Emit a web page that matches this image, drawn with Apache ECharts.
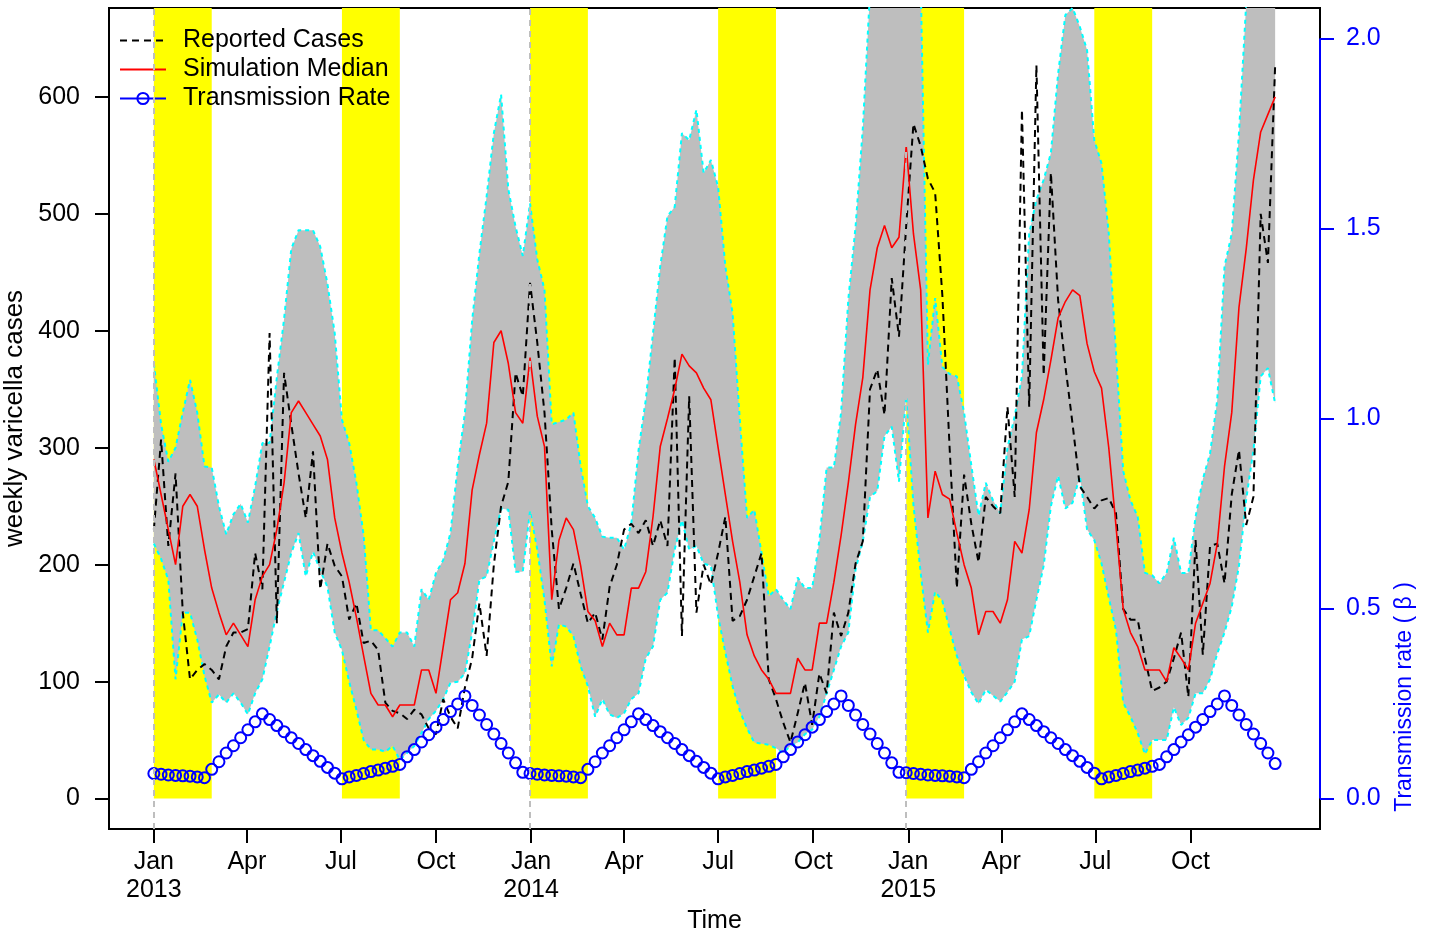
<!DOCTYPE html>
<html>
<head>
<meta charset="utf-8">
<title>Varicella cases and transmission rate</title>
<script src="https://cdn.jsdelivr.net/npm/echarts@6/dist/echarts.min.js"></script>
<style>
  html, body { margin: 0; padding: 0; background: #fff; }
  #chart { width: 1430px; height: 932px; }
</style>
</head>
<body>
<div id="chart"></div>
<script>
// weekly series, week 0 = first week of Jan 2013
const reported = [
  230, 307, 216, 278, 159, 102, 110, 115, 110, 102,
  130, 142, 142, 145, 210, 179, 398, 150, 364, 320,
  278, 240, 297, 179, 218, 199, 190, 153, 167, 133,
  135, 127, 82, 75, 73, 68, 76, 72, 60, 55,
  85, 70, 60, 95, 120, 167, 122, 200, 250, 271,
  364, 344, 441, 390, 330, 230, 162, 180, 201, 175,
  150, 159, 136, 181, 200, 230, 235, 227, 238, 216,
  238, 216, 377, 139, 344, 159, 200, 183, 210, 241,
  152, 156, 170, 190, 210, 102, 85, 65, 48, 73,
  99, 63, 107, 90, 159, 139, 159, 201, 220, 350,
  367, 328, 445, 395, 490, 577, 558, 530, 518, 430,
  300, 180, 277, 235, 202, 258, 250, 244, 335, 258,
  589, 335, 627, 362, 535, 426, 370, 320, 267, 258,
  248, 255, 257, 244, 162, 153, 153, 120, 92, 95,
  100, 120, 142, 87, 221, 123, 216, 218, 184, 260,
  298, 234, 258, 500, 458, 627
];

const median = [
  290, 260, 230, 200, 250, 260, 250, 213, 180, 159,
  140, 150, 140, 130, 170, 190, 200, 230, 270, 330,
  340, 330, 320, 310, 290, 240, 210, 185, 155, 122,
  90, 80, 80, 70, 80, 80, 80, 110, 110, 90,
  130, 170, 176, 201, 264, 294, 321, 390, 400, 372,
  330, 321, 377, 327, 301, 170, 221, 240, 230, 199,
  160, 152, 130, 150, 140, 140, 180, 180, 194, 241,
  301, 325, 350, 380, 370, 364, 351, 341, 300, 260,
  220, 185, 140, 122, 110, 102, 90, 90, 90, 120,
  110, 110, 150, 150, 185, 225, 270, 320, 360, 435,
  471, 490, 471, 480, 558, 483, 435, 240, 280, 260,
  256, 227, 200, 180, 140, 160, 160, 150, 170, 220,
  210, 247, 313, 341, 375, 411, 425, 435, 430, 389,
  365, 351, 300, 233, 162, 142, 130, 110, 110, 110,
  100, 129, 120, 110, 150, 167, 184, 218, 284, 330,
  420, 470, 529, 570, 585, 600
];

const upper = [
  372, 320, 288, 300, 330, 358, 330, 284, 283, 250,
  226, 243, 252, 236, 267, 304, 304, 360, 410, 470,
  486, 486, 486, 472, 440, 398, 324, 304, 270, 225,
  144, 144, 137, 130, 142, 142, 130, 179, 170, 193,
  204, 227, 284, 330, 409, 466, 515, 569, 602, 521,
  489, 464, 509, 461, 435, 320, 322, 324, 330, 284,
  250, 240, 224, 223, 223, 213, 235, 298, 341, 398,
  455, 498, 506, 569, 563, 589, 535, 546, 523, 455,
  415, 324, 240, 247, 210, 173, 179, 170, 162, 189,
  180, 180, 221, 283, 283, 330, 427, 489, 573, 690,
  740, 780, 800, 790, 760, 730, 700, 371, 428, 369,
  363, 361, 330, 285, 242, 270, 255, 244, 300, 327,
  361, 483, 512, 529, 552, 620, 670, 676, 660, 640,
  563, 543, 483, 381, 280, 255, 241, 193, 191, 184,
  193, 223, 193, 193, 241, 273, 295, 341, 455, 483,
  569, 680, 740, 780, 800, 820
];

const lower = [
  218, 205, 187, 102, 159, 159, 136, 105, 82, 89,
  82, 90, 82, 72, 90, 102, 130, 160, 185, 210,
  227, 190, 211, 195, 181, 142, 127, 100, 76, 50,
  42, 42, 40, 45, 33, 39, 45, 56, 68, 75,
  85, 99, 100, 107, 142, 187, 190, 220, 248, 247,
  194, 194, 246, 213, 170, 113, 149, 147, 139, 113,
  96, 70, 85, 72, 69, 73, 85, 90, 120, 130,
  170, 176, 213, 238, 213, 216, 201, 199, 156, 125,
  96, 75, 60, 48, 47, 46, 43, 39, 45, 48,
  55, 59, 70, 90, 110, 130, 142, 196, 220, 258,
  263, 310, 318, 271, 344, 251, 193, 142, 177, 169,
  145, 122, 105, 91, 81, 93, 88, 83, 91, 100,
  136, 139, 170, 199, 250, 276, 248, 253, 276, 230,
  221, 201, 172, 144, 82, 70, 56, 38, 50, 50,
  50, 78, 63, 69, 90, 90, 102, 124, 142, 164,
  199, 256, 298, 361, 368, 338
];

const beta = [
  0.066, 0.064, 0.062, 0.061, 0.060, 0.059, 0.057, 0.055,
  0.077, 0.097, 0.120, 0.139, 0.160, 0.181, 0.202, 0.223,
  0.208, 0.192, 0.176, 0.160, 0.145, 0.129, 0.113, 0.098, 0.082, 0.067, 0.052,
  0.057, 0.061, 0.066, 0.071, 0.075, 0.080, 0.085, 0.090,
  0.110, 0.129, 0.149, 0.168, 0.188, 0.208, 0.229, 0.249, 0.270,
  0.245, 0.220, 0.195, 0.170, 0.145, 0.120, 0.094, 0.069,
  0.066, 0.064, 0.062, 0.061, 0.060, 0.059, 0.057, 0.055,
  0.077, 0.097, 0.120, 0.139, 0.160, 0.181, 0.202, 0.223,
  0.208, 0.192, 0.176, 0.160, 0.145, 0.129, 0.113, 0.098, 0.082, 0.067, 0.052,
  0.057, 0.061, 0.066, 0.071, 0.075, 0.080, 0.085, 0.090,
  0.110, 0.129, 0.149, 0.168, 0.188, 0.208, 0.229, 0.249, 0.270,
  0.245, 0.220, 0.195, 0.170, 0.145, 0.120, 0.094, 0.069,
  0.068,
  0.066, 0.064, 0.062, 0.061, 0.060, 0.059, 0.057, 0.055,
  0.077, 0.097, 0.120, 0.139, 0.160, 0.181, 0.202, 0.223,
  0.208, 0.192, 0.176, 0.160, 0.145, 0.129, 0.113, 0.098, 0.082, 0.067, 0.052,
  0.057, 0.061, 0.066, 0.071, 0.075, 0.080, 0.085, 0.090,
  0.110, 0.129, 0.149, 0.168, 0.188, 0.208, 0.229, 0.249, 0.270,
  0.245, 0.220, 0.195, 0.170, 0.145, 0.120, 0.092
];

// x is in days since 2013-01-01, one point per week
const days = reported.map((_, i) => i * 7);

const xTickDays = [0, 90, 181, 273, 365, 455, 546, 638, 730, 820, 911, 1003];
const xTickLabels = ['Jan\n2013', 'Apr', 'Jul', 'Oct', 'Jan\n2014', 'Apr', 'Jul', 'Oct', 'Jan\n2015', 'Apr', 'Jul', 'Oct'];
const yTicks = [0, 100, 200, 300, 400, 500, 600];
const betaTicks = [0, 0.5, 1.0, 1.5, 2.0];

// Jan-Feb and Jul-Aug (school holidays), in days
const holidayBands = [[0, 56], [182, 238], [364, 420], [546, 602], [728, 784], [910, 966]];
const yearStarts = [0, 364, 728];

const X_MIN = -43.4, X_MAX = 1128.4;
const Y_MIN = -26, Y_MAX = 676;
const FONT = '"Liberation Sans", Arial, Helvetica, sans-serif';
const FS = 25;

const pairs = (ys) => ys.map((y, i) => [days[i], y]);
const noDot = { color: 'rgba(0,0,0,0)', borderWidth: 0 };

const chart = echarts.init(document.getElementById('chart'), null, { renderer: 'canvas' });

chart.setOption({
  animation: false,
  backgroundColor: '#fff',
  textStyle: { fontFamily: FONT },
  grid: {
    left: 109, right: 110, top: 8, bottom: 103,
    outerBoundsMode: 'none',
    containLabel: false,
    show: true, borderColor: '#000', borderWidth: 2, backgroundColor: 'transparent'
  },
  legend: {
    orient: 'vertical',
    left: 114, top: 23,
    itemWidth: 46, itemHeight: 14, itemGap: 4,
    textStyle: { fontSize: FS, color: '#000', fontFamily: FONT, padding: [0, 0, 0, 12] },
    data: [
      { name: 'Reported Cases', itemStyle: noDot },
      { name: 'Simulation Median', itemStyle: noDot },
      {
        name: 'Transmission Rate',
        itemStyle: { color: 'rgba(0,0,0,0)', borderColor: '#0000FF', borderWidth: 2 },
        lineStyle: { color: '#0000FF', width: 2, type: 'solid' }
      }
    ]
  },
  xAxis: {
    type: 'value',
    min: X_MIN, max: X_MAX,
    name: 'Time', nameLocation: 'middle', nameGap: 78,
    nameTextStyle: { fontSize: FS, color: '#000', fontFamily: FONT },
    axisLine: { show: true, onZero: false, lineStyle: { color: '#000', width: 2 } },
    axisTick: { show: true, length: 14, lineStyle: { color: '#000', width: 2 }, customValues: xTickDays },
    axisLabel: {
      customValues: xTickDays,
      fontSize: FS, color: '#000', lineHeight: 28, margin: 19, fontFamily: FONT,
      formatter: (v) => xTickLabels[xTickDays.indexOf(v)] ?? ''
    },
    splitLine: { show: false }
  },
  yAxis: [
    {
      type: 'value',
      min: Y_MIN, max: Y_MAX,
      name: 'weekly varicella cases', nameLocation: 'middle', nameGap: 76,
      nameTextStyle: { fontSize: 26, color: '#000', fontFamily: FONT },
      axisLine: { show: true, onZero: false, lineStyle: { color: '#000', width: 2 } },
      axisTick: { show: true, length: 14, lineStyle: { color: '#000', width: 2 }, customValues: yTicks },
      axisLabel: { customValues: yTicks, fontSize: FS, color: '#000', margin: 29, fontFamily: FONT },
      splitLine: { show: false }
    },
    {
      type: 'value',
      position: 'right',
      min: -0.08, max: 2.08,
      axisLine: { show: false, onZero: false },
      axisTick: { show: true, length: 14, lineStyle: { color: '#0000FF', width: 2 }, customValues: betaTicks },
      axisLabel: {
        customValues: betaTicks, fontSize: FS, color: '#0000FF', margin: 26, fontFamily: FONT,
        formatter: (v) => v.toFixed(1)
      },
      splitLine: { show: false }
    }
  ],
  graphic: [
    {
      type: 'text',
      x: 1405, y: 697,
      rotation: Math.PI / 2,
      style: {
        text: 'Transmission rate ( β )',
        fill: '#0000FF', fontSize: 23, fontFamily: FONT,
        align: 'center', verticalAlign: 'middle'
      }
    }
  ],
  series: [
    {
      name: 'band',
      type: 'custom',
      clip: true,
      silent: true,
      data: [[0, 0]],
      renderItem: (params, api) => {
        const pts = [];
        for (let i = 0; i < days.length; i++) pts.push(api.coord([days[i], upper[i]]));
        for (let i = days.length - 1; i >= 0; i--) pts.push(api.coord([days[i], lower[i]]));
        return { type: 'polygon', shape: { points: pts }, style: { fill: '#BEBEBE', stroke: null } };
      },
      markArea: {
        silent: true,
        itemStyle: { color: '#FFFF00', opacity: 1 },
        data: holidayBands.map(([a, b]) => [{ xAxis: a, yAxis: 0 }, { xAxis: b, yAxis: Y_MAX }])
      },
      markLine: {
        silent: true,
        symbol: ['none', 'none'],
        label: { show: false },
        lineStyle: { color: '#BEBEBE', width: 2, type: [6, 5] },
        data: yearStarts.map((d) => ({ xAxis: d }))
      }
    },
    {
      name: 'upper',
      type: 'line',
      data: pairs(upper),
      symbol: 'none',
      silent: true,
      lineStyle: { color: '#00FFFF', width: 2, type: [4, 4] }
    },
    {
      name: 'lower',
      type: 'line',
      data: pairs(lower),
      symbol: 'none',
      silent: true,
      lineStyle: { color: '#00FFFF', width: 2, type: [4, 4] }
    },
    {
      name: 'Reported Cases',
      type: 'line',
      data: pairs(reported),
      symbol: 'none',
      itemStyle: { color: '#000' },
      lineStyle: { color: '#000', width: 2, type: [7, 5] }
    },
    {
      name: 'Simulation Median',
      type: 'line',
      data: pairs(median),
      symbol: 'none',
      itemStyle: { color: '#FF0000' },
      lineStyle: { color: '#FF0000', width: 1.6 }
    },
    {
      name: 'Transmission Rate',
      type: 'line',
      yAxisIndex: 1,
      data: pairs(beta),
      symbol: 'circle',
      symbolSize: 11,
      showSymbol: true,
      showAllSymbol: true,
      lineStyle: { width: 0 },
      itemStyle: { color: 'rgba(0,0,0,0)', borderColor: '#0000FF', borderWidth: 2 },
      markLine: {
        silent: true,
        symbol: ['none', 'none'],
        label: { show: false },
        lineStyle: { color: '#0000FF', width: 2, type: 'solid' },
        data: [[{ coord: [X_MAX, 0] }, { coord: [X_MAX, 2] }]]
      }
    }
  ]
});

window.addEventListener('resize', () => chart.resize());
</script>
</body>
</html>
